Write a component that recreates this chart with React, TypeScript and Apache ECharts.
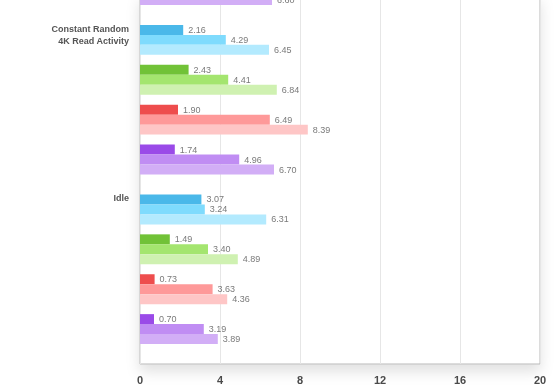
import React, { useEffect, useRef } from "react";
import * as echarts from "echarts";

// Category names (labels shown on the y axis)
const categories = ["Constant Random\n4K Read Activity", "Idle"];
// Value visible at the very top (last bar of the category above, cropped)
const prevCategoryLastValue = 6.6;
// Each category: [dark, mid, light] bar per colour group
const blueValues = [
  [2.16, 4.29, 6.45],
  [3.07, 3.24, 6.31],
];
const greenValues = [
  [2.43, 4.41, 6.84],
  [1.49, 3.4, 4.89],
];
const redValues = [
  [1.9, 6.49, 8.39],
  [0.73, 3.63, 4.36],
];
const purpleValues = [
  [1.74, 4.96, 6.7],
  [0.7, 3.19, 3.89],
];
const xTicks = { min: 0, max: 20, interval: 4 };

const palette = {
  blue: ["#4ab8e9", "#7fdbfd", "#b3eafe"],
  green: ["#71c237", "#a4e56f", "#cff1b1"],
  red: ["#ee4d4d", "#fe9999", "#fec6c6"],
  purple: ["#9a4ae8", "#c08df3", "#d2aef6"],
};

export default function App() {
  const ref = useRef<HTMLDivElement>(null);

  useEffect(() => {
    if (!ref.current) return;
    const chart = echarts.init(ref.current, undefined, { renderer: "svg" });

    const rows: string[] = [];
    const data: any[] = [];
    const rowLabels: Record<number, string> = {};
    const pushRow = (v: number | null, color?: string) => {
      rows.push("r" + rows.length);
      data.push(v === null ? "-" : { value: v, itemStyle: { color } });
    };
    // cropped top bar
    pushRow(prevCategoryLastValue, palette.purple[2]);
    categories.forEach((cat, ci) => {
      pushRow(null);
      rowLabels[rows.length] = cat;
      pushRow(null);
      const groups: [number[][], string[]][] = [
        [blueValues, palette.blue],
        [greenValues, palette.green],
        [redValues, palette.red],
        [purpleValues, palette.purple],
      ];
      groups.forEach(([vals, cols], gi) => {
        if (gi > 0) pushRow(null);
        vals[ci].forEach((v, k) => pushRow(v, cols[k]));
      });
    });
    pushRow(null);
    pushRow(null);

    chart.setOption({
      animation: false,
      grid: {
        left: 140,
        right: 20,
        top: 0,
        bottom: 26,
        show: true,
        backgroundColor: "#fff",
        borderColor: "#b8b8b8",
        borderWidth: 1,
        shadowColor: "rgba(0,0,0,0.12)",
        shadowBlur: 14,
        shadowOffsetY: 7,
      },
      xAxis: {
        type: "value",
        min: xTicks.min,
        max: xTicks.max,
        interval: xTicks.interval,
        axisLine: { show: false },
        axisTick: { show: false },
        splitLine: { lineStyle: { color: "#e6e6e6", width: 1 } },
        axisLabel: {
          margin: 10,
          fontSize: 11,
          fontWeight: "bold",
          color: "#4a4a4a",
          fontFamily: "Liberation Sans, Arial, sans-serif",
        },
      },
      yAxis: {
        type: "category",
        inverse: true,
        data: rows,
        axisLine: { show: false },
        axisTick: { show: false },
        splitLine: { show: false },
        axisLabel: {
          interval: 0,
          margin: 11,
          fontSize: 9,
          fontWeight: "bold",
          color: "#555",
          lineHeight: 12,
          verticalAlign: "top",
          padding: [3, 0, 0, 0],
          fontFamily: "Liberation Sans, Arial, sans-serif",
          formatter: (_v: string, idx: number) => rowLabels[idx] || "",
        },
      },
      series: [
        {
          type: "bar",
          data,
          barCategoryGap: "0%",
          label: {
            show: true,
            position: "right",
            distance: 5,
            fontSize: 9,
            color: "#7a7a7a",
            fontFamily: "Liberation Sans, Arial, sans-serif",
            formatter: (p: any) => Number(p.value).toFixed(2),
          },
        },
      ],
    });

    return () => chart.dispose();
  }, []);

  return (
    <div
      ref={ref}
      style={{ position: "fixed", left: 0, top: -5, width: 560, height: 395 }}
    />
  );
}
